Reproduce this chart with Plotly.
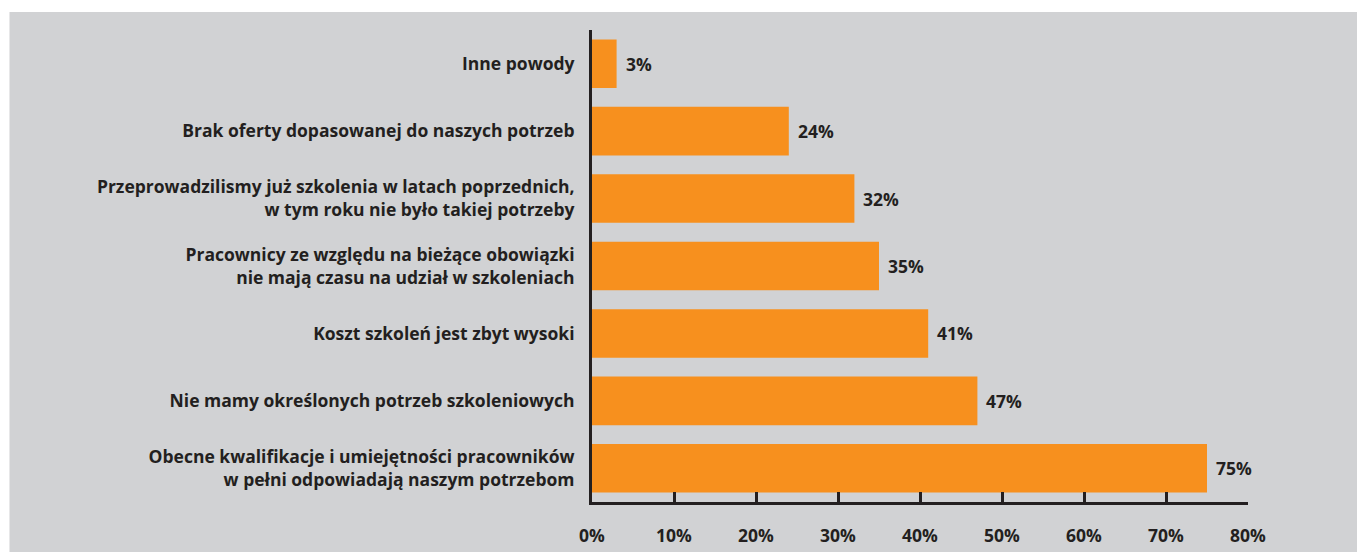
import plotly.graph_objects as go

# Survey answers, listed bottom-to-top as drawn on the category axis
categories = [
    "Obecne kwalifikacje i umiejętności pracowników<br>w pełni odpowiadają naszym potrzebom",
    "Nie mamy określonych potrzeb szkoleniowych",
    "Koszt szkoleń jest zbyt wysoki",
    "Pracownicy ze względu na bieżące obowiązki<br>nie mają czasu na udział w szkoleniach",
    "Przeprowadzilismy już szkolenia w latach poprzednich,<br>w tym roku nie było takiej potrzeby",
    "Brak oferty dopasowanej do naszych potrzeb",
    "Inne powody",
]
values = [75, 47, 41, 35, 32, 24, 3]
x_ticks = [0, 10, 20, 30, 40, 50, 60, 70, 80]

ORANGE = "#f7901e"
GREY = "#d1d2d4"
INK = "#231f20"
FONT = "Open Sans"
FS = 17.5

fig = go.Figure(
    go.Bar(
        x=values,
        y=categories,
        orientation="h",
        marker=dict(color=ORANGE, line=dict(width=0)),
        width=0.72,
        hoverinfo="skip",
    )
)

# Value labels just to the right of each bar
for cat, val in zip(categories, values):
    fig.add_annotation(
        x=val, y=cat, xref="x", yref="y",
        text=f"{val}%", showarrow=False,
        xanchor="left", yanchor="middle", xshift=7,
        font=dict(family=FONT, size=FS, color=INK, weight="bold"),
    )

# Grey panel behind the chart (white strip at top and left edges)
fig.add_shape(
    type="rect", xref="paper", yref="paper", layer="below",
    x0=-0.888, x1=1.2, y0=-0.2, y1=1.038,
    fillcolor=GREY, line=dict(width=0),
)

fig.update_layout(
    width=1357, height=552,
    margin=dict(l=592, r=109, t=30, b=50, autoexpand=False),
    paper_bgcolor="white",
    plot_bgcolor=GREY,
    showlegend=False,
    xaxis=dict(
        range=[0, 80],
        tickvals=x_ticks,
        ticktext=[f"{t}%" for t in x_ticks],
        ticks="inside", ticklen=10, tickwidth=3, tickcolor=INK,
        showline=True, linewidth=3, linecolor=INK,
        showgrid=False, zeroline=False,
        ticklabelstandoff=16,
        tickfont=dict(family=FONT, size=FS, color=INK, weight="bold"),
        automargin=False,
        fixedrange=True,
    ),
    yaxis=dict(
        categoryorder="array", categoryarray=categories,
        range=[-0.5, 6.5],
        ticks="", showline=True, linewidth=3, linecolor=INK,
        showgrid=False, zeroline=False,
        ticklabelstandoff=11,
        tickfont=dict(family=FONT, size=FS, color=INK, weight="bold"),
        automargin=False,
        fixedrange=True,
    ),
)

fig.write_html("out.html")
